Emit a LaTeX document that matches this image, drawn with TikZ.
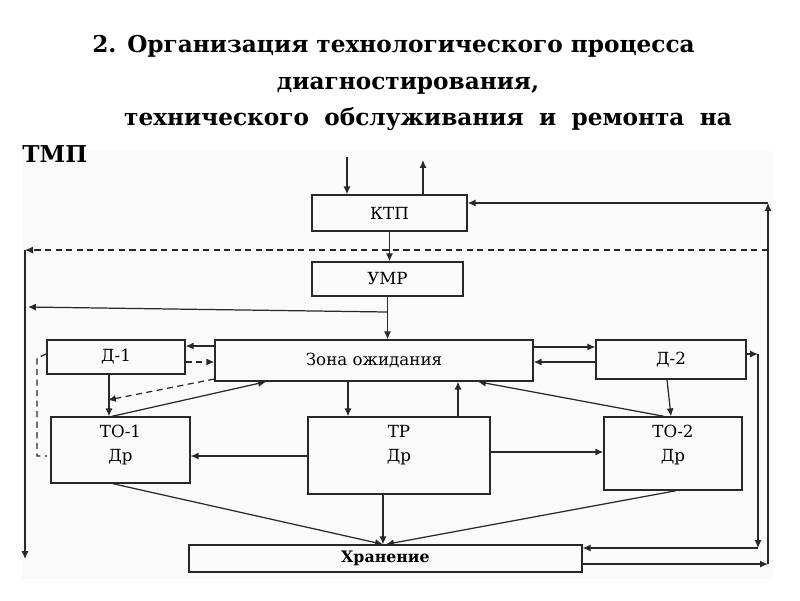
\documentclass[tikz,border=0pt]{standalone}
\usepackage{fontspec}
\setmainfont{DejaVu Serif}
\usetikzlibrary{arrows.meta}
\definecolor{fond}{RGB}{250,250,250}
\definecolor{trait}{RGB}{40,40,40}
\tikzset{
  box/.style={draw=trait, line width=0.8pt, inner sep=0pt, font=\fontsize{9.5}{12}\selectfont},
  boxtext/.style={align=center, inner sep=0pt, font=\fontsize{9.5}{14}\selectfont},
  fl/.style={->, >={Latex[length=4.5pt,width=4pt]}, line width=0.7pt, draw=trait},
  tirets/.style={dash pattern=on 3.5pt off 2.5pt},
  titre/.style={font=\bfseries\fontsize{13.2}{15}\selectfont, inner sep=0pt}
}

\begin{document}
\begin{tikzpicture}[x=0.02cm, y=-0.02cm]
\useasboundingbox (0,0) rectangle (800,600);
\fill[white] (0,0) rectangle (800,600);
\fill[fond] (22,151) rectangle (773,579);
% titre
\node[titre, anchor=base] (titre1) at (393.5,52) {2. Организация технологического процесса};
\node[titre, anchor=base] (titre2) at (408,89) {диагностирования,};
\node[titre, anchor=base] (titre3) at (428,125) {\makebox[345.8pt][s]{технического обслуживания и ремонта на}};
\node[titre, anchor=base west] (titre4) at (22,162) {ТМП};

% blocs
\node[box, minimum width=3.1cm, minimum height=0.72cm] (ktp) at (389.5,213) {КТП};
\node[box, minimum width=3.02cm, minimum height=0.68cm] (umr) at (387.5,279) {УМР};
\node[box, minimum width=6.36cm, minimum height=0.82cm] (zona) at (374,360.5) {Зона ожидания};
\node[box, minimum width=2.76cm, minimum height=0.68cm] (d1) at (116,357) {Д-1};
\node[box, minimum width=3.0cm, minimum height=0.78cm] (d2) at (671,359.5) {Д-2};
\node[box, minimum width=2.78cm, minimum height=1.32cm] (to1) at (120.5,450) {};
\node[box, minimum width=3.64cm, minimum height=1.54cm] (tr) at (399,455.5) {};
\node[box, minimum width=2.76cm, minimum height=1.46cm] (to2) at (673,453.5) {};
\node[box, minimum width=7.86cm, minimum height=0.54cm, font=\bfseries\fontsize{9}{11}\selectfont] (hran) at (385.5,558.5) {Хранение};
\node[boxtext] (to1txt) at (120.5,445) {ТО-1\\Др};
\node[boxtext] (trtxt) at (399,445) {ТР\\Др};
\node[boxtext] (to2txt) at (673,445) {ТО-2\\Др};

% points de passage
\coordinate (in) at (347,157);
\coordinate (out) at (423,160);
\coordinate (rb) at (768,564);
\coordinate (rt) at (768,203);
\coordinate (dr) at (768,250);
\coordinate (dl) at (25,250);
\coordinate (lb) at (25,559);
\coordinate (br) at (387.5,312);
\coordinate (bl) at (28,307);
\coordinate (r2t) at (758,354);
\coordinate (r2b) at (758,548);

% liaisons
\draw[fl] (in) -- (in |- ktp.north);
\draw[fl] (out |- ktp.north) -- (out);
\draw[fl] (hran.east |- rb) -- (rb);
\draw[fl] (rb) -- (rt);
\draw[fl] (rt) -- (rt -| ktp.east);
\draw[fl, tirets] (dr) -- (dl);
\draw[fl] (dl) -- (lb);
\draw[fl] (ktp.south) -- (ktp.south |- umr.north);
\draw[fl] (umr.south) -- (umr.south |- zona.north);
\draw[fl] (br) -- (bl);
\draw[fl] (zona.west |- 0,346) -- (d1.east |- 0,346);
\draw[fl, tirets] (d1.east |- 0,362) -- (zona.west |- 0,362);
\draw[fl, tirets] (zona.west |- 0,379) -- (108,400);
\draw[fl] (d1.south -| 109,0) -- (to1.north -| 109,0);
\draw[fl] (to1.north -| 112,0) -- (zona.south -| 266,0);
\draw[trait, line width=0.7pt, tirets] (d1.west |- 0,354) -- (37,358) -- (37,456) -- (47,456);
\draw[fl] (zona.south -| 348,0) -- (tr.north -| 348,0);
\draw[fl] (tr.north -| 458,0) -- (zona.south -| 458,0);
\draw[fl] (tr.west |- 0,456) -- (to1.east |- 0,456);
\draw[fl] (tr.east |- 0,452) -- (to2.west |- 0,452);
\draw[fl] (zona.east |- 0,347) -- (d2.west |- 0,347);
\draw[fl] (d2.west |- 0,362) -- (zona.east |- 0,362);
\draw[fl] (d2.south -| 667,0) -- (to2.north -| 671,0);
\draw[fl] (to2.north -| 664,0) -- (zona.south -| 478,0);
\draw[fl] (d2.east |- r2t) -- (r2t);
\draw[fl] (r2t) -- (r2b);
\draw[fl] (r2b) -- (r2b -| hran.east);
\draw[fl] (to1.south -| 113,0) -- (hran.north -| 383,0);
\draw[fl] (tr.south -| 383,0) -- (hran.north -| 383,0);
\draw[fl] (to2.south -| 676,0) -- (hran.north -| 386,0);

\end{tikzpicture}
\end{document}
